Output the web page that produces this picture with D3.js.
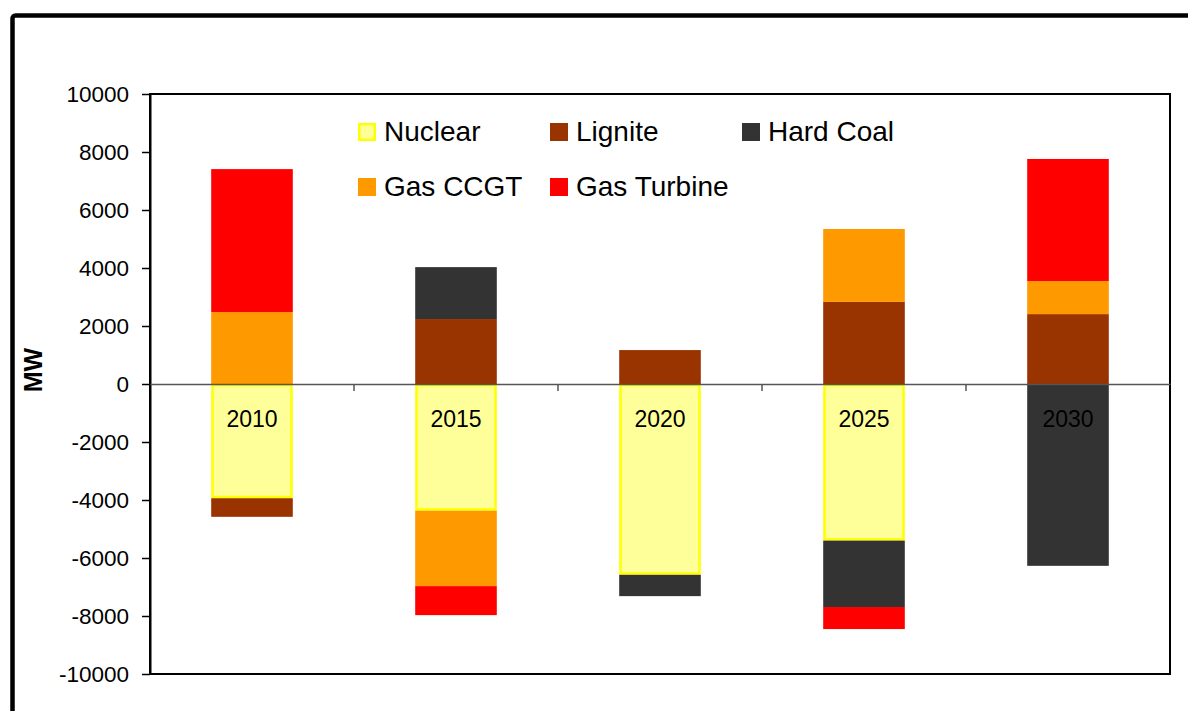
<!DOCTYPE html>
<html>
<head>
<meta charset="utf-8">
<script src="https://cdn.jsdelivr.net/npm/d3@7"></script>
<style>
  html, body { margin: 0; padding: 0; background: #fff; }
  svg { display: block; font-family: "Liberation Sans", Arial, sans-serif; }
</style>
</head>
<body>
<svg id="chart" width="1188" height="711"></svg>
<script>
// Capacity change per period, MW (positive = additions, negative = retirements)
const years = ["2010", "2015", "2020", "2025", "2030"];
const seriesNames = ["Nuclear", "Lignite", "Hard Coal", "Gas CCGT", "Gas Turbine"];
const nuclear    = [-3940, -4370, -6580, -5400, 0];
const lignite    = [-640, 2240, 1170, 2830, 2410];
const hardCoal   = [0, 1790, -735, -2290, -6270];
const gasCCGT    = [2480, -2600, 0, 2515, 1140];
const gasTurbine = [4930, -1000, 0, -760, 4210];
const yTicks = [-10000, -8000, -6000, -4000, -2000, 0, 2000, 4000, 6000, 8000, 10000];
const yLabel = "MW";

const colors = {
  "Nuclear": "#FFFF99",
  "Lignite": "#993300",
  "Hard Coal": "#333333",
  "Gas CCGT": "#FF9900",
  "Gas Turbine": "#FF0000"
};
const strokes = { "Nuclear": "#FFFF00" };

const seriesValues = [nuclear, lignite, hardCoal, gasCCGT, gasTurbine];
const rows = years.map((yr, i) => {
  const r = { year: yr };
  seriesNames.forEach((s, k) => { r[s] = seriesValues[k][i]; });
  return r;
});

const svg = d3.select("#chart");
const plot = { left: 150, right: 1170, top: 94, bottom: 674 };

// Outer chart frame
svg.append("rect")
  .attr("x", 12.5).attr("y", 15.5)
  .attr("width", 1400).attr("height", 1000)
  .attr("rx", 3)
  .attr("fill", "none")
  .attr("stroke", "#000")
  .attr("stroke-width", 4.5);

const x = d3.scaleBand()
  .domain(years)
  .range([plot.left, plot.right])
  .paddingInner(0.6)
  .paddingOuter(0.3);

const y = d3.scaleLinear()
  .domain([-10000, 10000])
  .range([plot.bottom, plot.top]);

// Plot area border
svg.append("rect")
  .attr("x", plot.left).attr("y", plot.top)
  .attr("width", plot.right - plot.left)
  .attr("height", plot.bottom - plot.top)
  .attr("fill", "#fff")
  .attr("stroke", "#000")
  .attr("stroke-width", 2);

// Diverging stack: positive values stack upward, negatives downward
const stack = d3.stack()
  .keys(seriesNames)
  .offset(d3.stackOffsetDiverging);
const layers = stack(rows);

const gBars = svg.append("g");
layers.forEach(layer => {
  const key = layer.key;
  const sw = strokes[key] ? 2.5 : 0;
  gBars.append("g")
    .selectAll("rect")
    .data(layer.filter(d => d[1] - d[0] !== 0))
    .join("rect")
    .attr("x", d => x(d.data.year) + sw / 2)
    .attr("width", x.bandwidth() - sw)
    .attr("y", d => y(d[1]) + sw / 2)
    .attr("height", d => Math.max(0, y(d[0]) - y(d[1]) - sw))
    .attr("fill", colors[key])
    .attr("stroke", strokes[key] || "none")
    .attr("stroke-width", sw);
});

// Y axis
const yAxis = d3.axisLeft(y)
  .tickValues(yTicks)
  .tickFormat(d => String(d))
  .tickSizeInner(8)
  .tickSizeOuter(0)
  .tickPadding(13);
const gy = svg.append("g")
  .attr("transform", `translate(${plot.left},0)`)
  .call(yAxis);
gy.select(".domain").attr("stroke", "#000").attr("stroke-width", 2);
gy.selectAll(".tick line").attr("stroke", "#000").attr("stroke-width", 1.5);
gy.selectAll(".tick text")
  .attr("font-size", 22.5)
  .attr("fill", "#000")
  .style("font-family", "'Liberation Sans', Arial, sans-serif");

// Category axis at zero
const xAxis = d3.axisBottom(x)
  .tickSizeInner(0)
  .tickSizeOuter(0)
  .tickPadding(27);
const gx = svg.append("g")
  .attr("transform", `translate(0,${y(0)})`)
  .call(xAxis);
gx.select(".domain").attr("stroke", "#555").attr("stroke-width", 1.5);
gx.selectAll(".tick text")
  .attr("font-size", 23)
  .attr("fill", "#000")
  .style("font-family", "'Liberation Sans', Arial, sans-serif");

// Tick marks between categories
const boundaries = years.slice(1).map(yr => x(yr) - x.step() * x.paddingInner() / 2);
gx.selectAll(".sep")
  .data(boundaries)
  .join("line")
  .attr("class", "sep")
  .attr("x1", d => d).attr("x2", d => d)
  .attr("y1", 0).attr("y2", 7)
  .attr("stroke", "#555")
  .attr("stroke-width", 1.5);

// Y axis title
svg.append("text")
  .attr("transform", `translate(42,370) rotate(-90)`)
  .attr("text-anchor", "middle")
  .attr("font-size", 25)
  .attr("font-weight", "bold")
  .attr("fill", "#000")
  .text(yLabel);

// Legend (3 columns)
const legend = svg.append("g");
const legCols = 3, colW = 192, rowH = 55, legX = 358, legY = 123, sq = 18;
seriesNames.forEach((s, i) => {
  const cx = legX + (i % legCols) * colW;
  const cy = legY + Math.floor(i / legCols) * rowH;
  const sw = strokes[s] ? 2.5 : 0;
  legend.append("rect")
    .attr("x", cx + sw / 2).attr("y", cy + sw / 2)
    .attr("width", sq - sw).attr("height", sq - sw)
    .attr("fill", colors[s])
    .attr("stroke", strokes[s] || "none")
    .attr("stroke-width", sw);
  legend.append("text")
    .attr("x", cx + 26)
    .attr("y", cy + 18)
    .attr("font-size", 28)
    .attr("fill", "#000")
    .text(s);
});
</script>
</body>
</html>
